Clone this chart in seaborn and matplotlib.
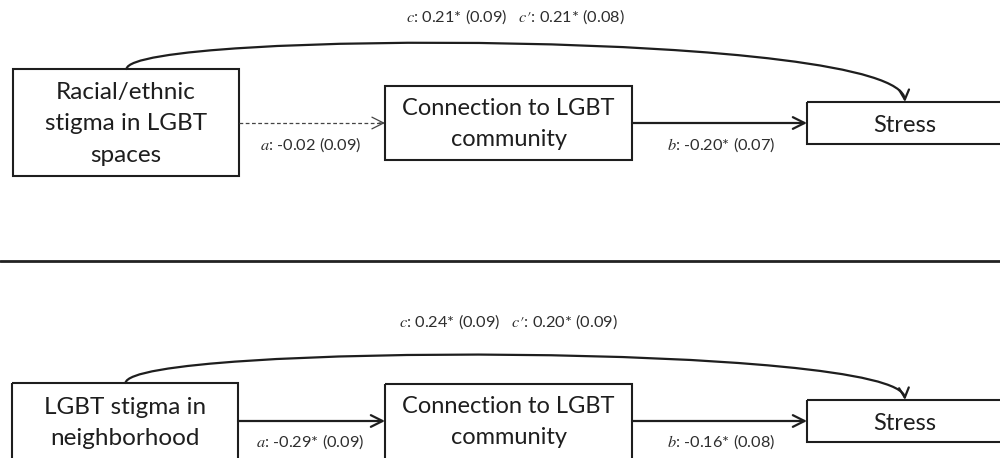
import numpy as np
import matplotlib
matplotlib.use("Agg")
import matplotlib.pyplot as plt
import seaborn as sns
from matplotlib.patches import Rectangle, FancyArrowPatch
from matplotlib.path import Path

# mediation model values, one entry per panel (top, bottom)
predictors = ["Racial/ethnic\nstigma in LGBT\nspaces", "LGBT stigma in\nneighborhood"]
mediator = "Connection to LGBT\ncommunity"
outcome = "Stress"

a_est = [-0.02, -0.29]
a_se = [0.09, 0.09]
a_sig = [False, True]
b_est = [-0.20, -0.16]
b_se = [0.07, 0.08]
b_sig = [True, True]
c_est = [0.21, 0.24]
c_se = [0.09, 0.09]
c_sig = [True, True]
cp_est = [0.21, 0.20]
cp_se = [0.08, 0.09]
cp_sig = [True, True]

sns.set_theme(style="white")
plt.rcParams['font.family'] = ['Lato', 'DejaVu Sans']
plt.rcParams['mathtext.fontset'] = 'stix'

INK = '#1e1e1e'
LBL = '#2e2e2e'
HEAD = '->,head_length=0.7,head_width=0.35'


def coef(est, se, sig):
    return f"{est:.2f}{'*' if sig else ''} ({se:.2f})"


fig = plt.figure(figsize=(10, 4.58), dpi=100)
ax = fig.add_axes([0, 0, 1, 1])
ax.set_xlim(0, 1000)
ax.set_ylim(458, 0)
ax.axis('off')

# layout per panel (pixels)
panel_rows = [
    dict(x_box=(13, 69, 226, 107), m_box=(385, 86, 247, 74), y_box=(807, 102, 210, 42),
         arr_y=123, lab_y=145, top_y=17, curve_peak=30, x_text_y=124),
    dict(x_box=(12, 383, 226, 107), m_box=(385, 384, 247, 107), y_box=(807, 400, 210, 42),
         arr_y=421, lab_y=442, top_y=322, curve_peak=343, x_text_y=423),
]

for i, p in enumerate(panel_rows):
    for (bx, by, bw, bh) in (p['x_box'], p['m_box'], p['y_box']):
        ax.add_patch(Rectangle((bx, by), bw, bh, fill=False, ec=INK, lw=1.5))

    # box texts
    xb = p['x_box']
    ax.text(xb[0] + xb[2] / 2, p['x_text_y'], predictors[i],
            ha='center', va='center', fontsize=17.5, color=INK, linespacing=1.6)
    mb = p['m_box']
    ax.text(mb[0] + mb[2] / 2, p['arr_y'] + 1, mediator, ha='center', va='center',
            fontsize=17, color=INK, linespacing=1.62)
    yb = p['y_box']
    ax.text(905, yb[1] + yb[3] / 2 + 2, outcome, ha='center', va='center',
            fontsize=17, color=INK)

    # a path
    x0 = xb[0] + xb[2]
    x1 = mb[0]
    ay = p['arr_y']
    if a_sig[i]:
        ax.annotate('', xy=(x1, ay), xytext=(x0, ay),
                    arrowprops=dict(arrowstyle=HEAD, lw=1.6, color=INK, shrinkA=0, shrinkB=0))
    else:
        ax.plot([x0, x1 - 2], [ay, ay], ls=(0, (3, 2)), lw=0.9, color='#444444')
        ax.annotate('', xy=(x1, ay), xytext=(x1 - 6, ay),
                    arrowprops=dict(arrowstyle=HEAD, lw=0.9, color='#444444',
                                    shrinkA=0, shrinkB=0))
    ax.text((x0 + x1) / 2 - 1, p['lab_y'], f"$a$: {coef(a_est[i], a_se[i], a_sig[i])}",
            ha='center', va='center', fontsize=11.8, color=LBL)

    # b path
    x2 = mb[0] + mb[2]
    x3 = yb[0]
    ax.annotate('', xy=(x3, ay), xytext=(x2, ay),
                arrowprops=dict(arrowstyle=HEAD, lw=1.6, color=INK, shrinkA=0, shrinkB=0))
    ax.text((x2 + x3) / 2 + 2, p['lab_y'], f"$b$: {coef(b_est[i], b_se[i], b_sig[i])}",
            ha='center', va='center', fontsize=11.8, color=LBL)

    # c / c' curved path
    sx, sy = xb[0] + xb[2] / 2 + 0.5, xb[1]
    ex, ey = 905, yb[1]
    pk = p['curve_peak']
    verts = [(sx, sy), (sx + 4, pk), (ex - 5, pk), (ex, ey)]
    path = Path(verts, [Path.MOVETO, Path.CURVE4, Path.CURVE4, Path.CURVE4])
    ax.add_patch(FancyArrowPatch(path=path, arrowstyle=HEAD, mutation_scale=10,
                                 lw=1.6, color=INK))
    ax.text(515 - 7 * i, p['top_y'],
            f"$c$: {coef(c_est[i], c_se[i], c_sig[i])}   $c\u2032$: {coef(cp_est[i], cp_se[i], cp_sig[i])}",
            ha='center', va='center', fontsize=11.8, color=LBL)

# divider between the two models
ax.plot([0, 1000], [261, 261], color='#222222', lw=2)

fig.savefig('out.png', dpi=100)
